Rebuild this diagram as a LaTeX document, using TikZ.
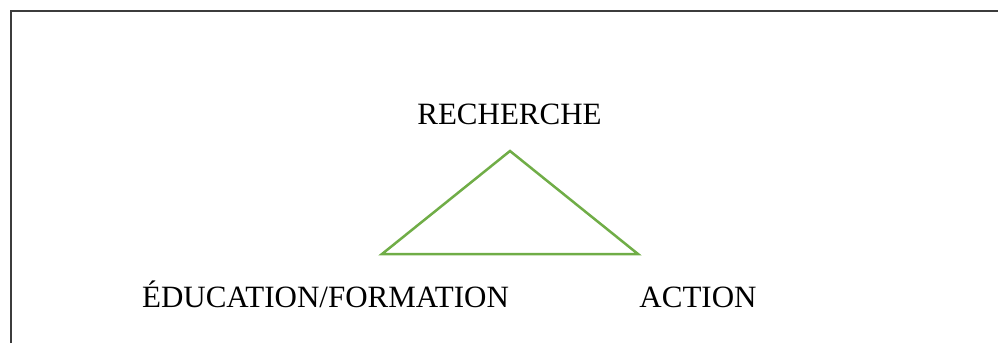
\documentclass[tikz,border=0pt]{standalone}
\usepackage{fontspec}
\setmainfont{Liberation Serif}
\usepackage{tikz}
\usetikzlibrary{positioning}
\definecolor{trigreen}{RGB}{112,173,71}
\definecolor{framegray}{RGB}{60,60,60}

\begin{document}
\begin{tikzpicture}[x=1pt,y=-1pt,font=\fontsize{31}{37}\selectfont,
    lbl/.style={inner sep=0pt,anchor=base}]
        \useasboundingbox (0,0) rectangle (998,343);
        \draw[framegray,line width=1.6pt] (10.8,343)--(10.8,10.8)--(998,10.8);
        \coordinate (top) at (510,151);
        \coordinate (bl) at (382,254);
        \coordinate (br) at (638,254);
        \draw[trigreen,line width=2.5pt,line join=miter] (top)--(br)--(bl)--cycle;
        \node[lbl] (rech) at (509.5,124) {RECHERCHE};
        \node[lbl] (edu) at (325.5,307) {ÉDUCATION/FORMATION};
        \node[lbl] (act) at (698,307) {ACTION};
      \end{tikzpicture}
\end{document}
